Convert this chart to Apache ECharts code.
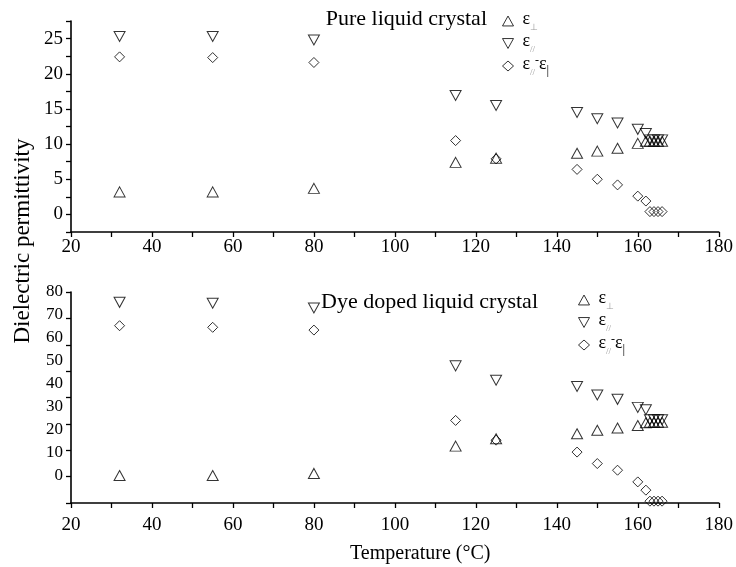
<!DOCTYPE html>
<html><head><meta charset="utf-8">
<script src="https://cdn.jsdelivr.net/npm/echarts@6/dist/echarts.min.js"></script>
<style>html,body{margin:0;padding:0;background:#fff}#c{width:736px;height:567px}</style>
</head><body><div id="c"></div>
<script>
// ---- data ----
const temps = [32, 55, 80, 115, 125, 145, 150, 155, 160, 162, 163, 164, 165, 166];
// Pure liquid crystal
const perpPure = [3.2, 3.2, 3.7, 7.4, 8.0, 8.7, 9.0, 9.4, 10.1, 10.4, 10.4, 10.4, 10.4, 10.4];
const parPure  = [25.3, 25.3, 24.8, 16.9, 15.5, 14.5, 13.6, 13.0, 12.1, 11.5, 10.6, 10.6, 10.6, 10.6];
const diffPure = [22.4, 22.3, 21.6, 10.5, 7.9, 6.4, 5.0, 4.2, 2.6, 1.9, 0.4, 0.4, 0.4, 0.4];
// Dye doped liquid crystal
const perpDye = [0.0, 0.0, 0.9, 12.8, 16.0, 18.2, 19.7, 20.7, 21.8, 23.0, 23.2, 23.2, 23.2, 23.2];
const parDye  = [75.5, 75.1, 73.0, 47.8, 41.5, 38.8, 35.1, 33.2, 29.7, 28.7, 24.3, 24.3, 24.3, 24.3];
const diffDye = [65.3, 64.6, 63.4, 24.0, 15.4, 10.2, 5.2, 2.3, -2.8, -6.4, -11.2, -11.2, -11.2, -11.2];
// tick labels
const xTickLabels = [20, 40, 60, 80, 100, 120, 140, 160, 180];
const yTickLabelsTop = [0, 5, 10, 15, 20, 25];
const yTickLabelsBottom = [0, 10, 20, 30, 40, 50, 60, 70, 80];
const texts = {
  titleTop: 'Pure liquid crystal',
  titleBottom: 'Dye doped liquid crystal',
  xName: 'Temperature (°C)',
  yName: 'Dielectric permittivity'
};

// ---- chart ----
const F = 'Liberation Serif';
const UP = 'path://M5,0 L10,9 L0,9 Z';
const DOWN = 'path://M0,0 L10,0 L5,9 Z';
const chart = echarts.init(document.getElementById('c'));
const pairs = d => temps.map((t, i) => [t, d[i]]);
const legendText = {
  perp: '{e|ε}{s|⊥}',
  par: '{e|ε}{s|//}',
  diff: '{e|ε}{s|//}{d|-}{f|ε}{b||}'
};
const rich = {
  e: {fontFamily: F, fontSize: 18, color: '#000', lineHeight: 22, verticalAlign: 'top', padding: [0, 0, 0, 4]},
  f: {fontFamily: F, fontSize: 18, color: '#000', lineHeight: 22, verticalAlign: 'top'},
  s: {fontFamily: F, fontSize: 9, color: '#9a9a9a', lineHeight: 10, verticalAlign: 'bottom'},
  d: {fontFamily: F, fontSize: 12, color: '#000', lineHeight: 22, verticalAlign: 'top'},
  b: {fontFamily: F, fontSize: 13, color: '#000', lineHeight: 11, verticalAlign: 'bottom'}
};
const axisLineStyle = {color: '#000', width: 1.6};
const tickStyle = {color: '#000', width: 1.3};
const hollow = {color: 'rgba(255,255,255,0)', borderColor: '#000', borderWidth: 1};
function xAxis(grid, margin) {
  return {
    type: 'value', gridIndex: grid, min: 20, max: 180, interval: 10,
    axisLine: {show: true, onZero: false, lineStyle: axisLineStyle},
    axisTick: {show: true, inside: false, length: 5, lineStyle: tickStyle},
    splitLine: {show: false},
    axisLabel: {
      margin: margin, fontFamily: F, fontSize: 19, color: '#000',
      formatter: v => xTickLabels.includes(v) ? String(v) : ''
    }
  };
}
function scatter(name, grid, data, sym, size) {
  return {
    type: 'scatter', name: name, xAxisIndex: grid, yAxisIndex: grid === 0 ? 0 : 1,
    data: pairs(data), symbol: sym, symbolSize: size,
    itemStyle: hollow,
    emphasis: {disabled: true}, z: 3
  };
}
function legend(names, left, top) {
  const icons = [UP, DOWN, 'diamond'];
  return {
    orient: 'vertical', left: left, top: top, itemWidth: 11, itemHeight: 10, itemGap: 0.5,
    data: names.map((n, i) => ({name: n, icon: icons[i], itemStyle: hollow})),
    itemStyle: hollow,
    formatter: n => legendText[n.replace(/Pure|Dye/, '')],
    textStyle: {fontFamily: F, rich: rich}, selectedMode: false
  };
}
const option = {
  backgroundColor: '#fff',
  animation: false,
  title: [
    {text: texts.titleTop, right: 244, top: 3,
     textStyle: {fontFamily: F, fontSize: 22, fontWeight: 'normal', color: '#000'}},
    {text: texts.titleBottom, right: 193, top: 286,
     textStyle: {fontFamily: F, fontSize: 22, fontWeight: 'normal', color: '#000'}}
  ],
  legend: [
    legend(['perpPure', 'parPure', 'diffPure'], 497, 5),
    legend(['perpDye', 'parDye', 'diffDye'], 573, 284)
  ],
  grid: [
    {left: 71, top: 21, width: 648, height: 211},
    {left: 71, top: 292, width: 648, height: 211}
  ],
  xAxis: [xAxis(0, 6), xAxis(1, 13)],
  yAxis: [
    {type: 'value', gridIndex: 0, min: -2.5, max: 27.5, interval: 2.5, position: 'left',
     axisLine: {show: true, onZero: false, lineStyle: axisLineStyle},
     axisTick: {show: true, length: 5, lineStyle: tickStyle},
     splitLine: {show: false},
     axisLabel: {margin: 8, fontFamily: F, fontSize: 19, color: '#000',
       formatter: v => yTickLabelsTop.includes(v) ? String(v) : ''}},
    {type: 'value', gridIndex: 1, min: -12, max: 80, interval: 2, position: 'left',
     axisLine: {show: false, onZero: false}, axisTick: {show: false}, splitLine: {show: false},
     axisLabel: {margin: 8, fontFamily: F, fontSize: 17, color: '#000',
       formatter: v => yTickLabelsBottom.includes(v) ? String(v) : ''}},
    {type: 'value', gridIndex: 1, min: 0, max: 8, interval: 1, position: 'left',
     axisLine: {show: true, onZero: false, lineStyle: axisLineStyle},
     axisTick: {show: true, length: 5, lineStyle: tickStyle},
     splitLine: {show: false}, axisLabel: {show: false}}
  ],
  series: [
    scatter('perpPure', 0, perpPure, UP, [11, 10]),
    scatter('parPure', 0, parPure, DOWN, [11, 10]),
    scatter('diffPure', 0, diffPure, 'diamond', [10, 10]),
    scatter('perpDye', 1, perpDye, UP, [11, 10]),
    scatter('parDye', 1, parDye, DOWN, [11, 10]),
    scatter('diffDye', 1, diffDye, 'diamond', [10, 10])
  ],
  graphic: [
    {type: 'text', left: 350, top: 544,
     style: {text: texts.xName, fontFamily: F, fontSize: 20, fill: '#000'}},
    {type: 'text', x: 23, y: 241, rotation: Math.PI / 2,
     style: {text: texts.yName, fontFamily: F, fontSize: 23, fill: '#000',
             align: 'center', verticalAlign: 'middle'}}
  ]
};
chart.setOption(option);
</script>
</body></html>
